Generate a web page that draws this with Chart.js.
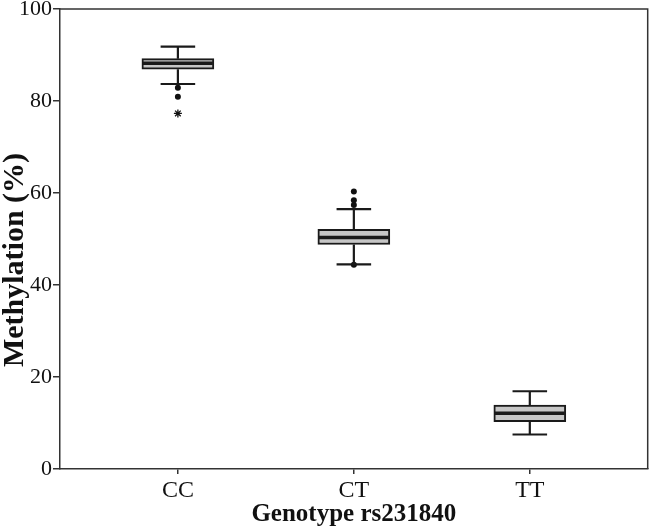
<!DOCTYPE html>
<html>
<head>
<meta charset="utf-8">
<script src="https://cdn.jsdelivr.net/npm/chart.js@4/dist/chart.umd.min.js"></script>
<style>
  html, body { margin: 0; padding: 0; background: #fff; }
  #wrap { width: 653px; height: 530px; }
</style>
</head>
<body>
<div id="wrap"><canvas id="c" width="653" height="530"></canvas></div>
<script>
const categories = ['CC', 'CT', 'TT'];
const whiskerLow = [83.7, 44.5, 7.5];
const q1 = [86.9, 48.8, 10.3];
const median = [88.2, 50.3, 12.1];
const q3 = [89.2, 52.1, 13.9];
const whiskerHigh = [91.8, 56.5, 16.9];
// outliers: [categoryIndex, value]
const outlierCat = [0, 0, 1, 1, 1, 1];
const outlierVal = [82.9, 80.9, 60.3, 58.4, 57.4, 44.4];
const extremeCat = [0];
const extremeVal = [77.3];
const yTicks = [0, 20, 40, 60, 80, 100];
const yTitle = 'Methylation (%)';

const AXIS_COLOR = '#333333';
const LINE_COLOR = '#1a1a1a';

const whiskerPlugin = {
  id: 'whiskers',
  afterDatasetsDraw(chart) {
    const ctx = chart.ctx;
    const xs = chart.scales.x, ys = chart.scales.y;
    const barMeta = chart.getDatasetMeta(0);
    ctx.save();
    ctx.strokeStyle = LINE_COLOR;
    categories.forEach((c, i) => {
      const x = xs.getPixelForValue(i);
      const bar = barMeta.data[i];
      const half = bar ? bar.width / 2 : 36;
      const capHalf = half * 0.48;
      ctx.lineWidth = 2.2;
      ctx.beginPath();
      ctx.moveTo(x, ys.getPixelForValue(q3[i]));
      ctx.lineTo(x, ys.getPixelForValue(whiskerHigh[i]));
      ctx.moveTo(x, ys.getPixelForValue(q1[i]));
      ctx.lineTo(x, ys.getPixelForValue(whiskerLow[i]));
      ctx.moveTo(x - capHalf, ys.getPixelForValue(whiskerHigh[i]));
      ctx.lineTo(x + capHalf, ys.getPixelForValue(whiskerHigh[i]));
      ctx.moveTo(x - capHalf, ys.getPixelForValue(whiskerLow[i]));
      ctx.lineTo(x + capHalf, ys.getPixelForValue(whiskerLow[i]));
      ctx.stroke();
      ctx.lineWidth = 3.5;
      ctx.beginPath();
      ctx.moveTo(x - half + 1, ys.getPixelForValue(median[i]));
      ctx.lineTo(x + half - 1, ys.getPixelForValue(median[i]));
      ctx.stroke();
    });
    ctx.restore();
  },
  afterDraw(chart) {
    const ctx = chart.ctx, a = chart.chartArea;
    ctx.save();
    ctx.strokeStyle = AXIS_COLOR;
    ctx.lineWidth = 1.5;
    ctx.beginPath();
    ctx.moveTo(a.left, a.top);
    ctx.lineTo(a.right, a.top);
    ctx.lineTo(a.right, a.bottom);
    ctx.stroke();
    // y-axis title, shifted slightly below center as in the reference
    ctx.translate(15, (a.top + a.bottom) / 2 + 21);
    ctx.rotate(-Math.PI / 2);
    ctx.font = 'bold 30px "Liberation Serif"';
    ctx.fillStyle = '#111';
    ctx.textAlign = 'center';
    ctx.textBaseline = 'middle';
    ctx.fillText(yTitle, 0, 0);
    ctx.restore();
  }
};

new Chart(document.getElementById('c'), {
  type: 'bar',
  data: {
    datasets: [
      {
        type: 'bar',
        data: categories.map((c, i) => ({ x: i, y: [q1[i], q3[i]] })),
        backgroundColor: '#c6c6c6',
        borderColor: LINE_COLOR,
        borderWidth: 2,
        borderSkipped: false,
        barThickness: 72
      },
      {
        type: 'scatter',
        data: outlierCat.map((c, i) => ({ x: c, y: outlierVal[i] })),
        pointStyle: 'circle',
        pointRadius: 3,
        backgroundColor: '#111',
        borderColor: '#111',
        borderWidth: 0
      },
      {
        type: 'scatter',
        data: extremeCat.map((c, i) => ({ x: c, y: extremeVal[i] })),
        pointStyle: 'star',
        pointRadius: 4,
        backgroundColor: '#111',
        borderColor: '#111',
        borderWidth: 1.3
      }
    ]
  },
  options: {
    responsive: false,
    animation: false,
    layout: { padding: { top: 9, right: 4, left: 0, bottom: 0 } },
    plugins: { legend: { display: false }, tooltip: { enabled: false } },
    scales: {
      x: {
        type: 'linear',
        offset: false,
        min: -0.67,
        max: 2.67,
        afterBuildTicks(scale) { scale.ticks = categories.map((c, i) => ({ value: i })); },
        afterFit(scale) { scale.height = 61; scale.paddingLeft = 0; scale.paddingRight = 0; },
        ticks: {
          callback: (v) => categories[v] ?? '',
          font: { family: 'Liberation Serif', size: 24 },
          color: '#111',
          padding: 2,
          maxRotation: 0,
          autoSkip: false
        },
        grid: { offset: false, drawOnChartArea: false, drawTicks: true, tickLength: 5, color: AXIS_COLOR, lineWidth: 1.5 },
        border: { display: true, color: AXIS_COLOR, width: 1.5 },
        title: {
          display: true,
          text: 'Genotype rs231840',
          font: { family: 'Liberation Serif', size: 25, weight: 'bold' },
          color: '#111',
          padding: { top: -4, bottom: 0 }
        }
      },
      y: {
        min: 0,
        max: 100,
        afterBuildTicks(scale) { scale.ticks = yTicks.map(v => ({ value: v })); },
        afterFit(scale) { scale.width = 60; scale.paddingTop = 0; scale.paddingBottom = 0; },
        ticks: {
          font: { family: 'Liberation Serif', size: 22 },
          color: '#111',
          padding: 1
        },
        grid: { drawOnChartArea: false, drawTicks: true, tickLength: 7, color: AXIS_COLOR, lineWidth: 1.5 },
        border: { display: true, color: AXIS_COLOR, width: 1.5 },
        title: { display: false }
      }
    }
  },
  plugins: [whiskerPlugin]
});
</script>
</body>
</html>
